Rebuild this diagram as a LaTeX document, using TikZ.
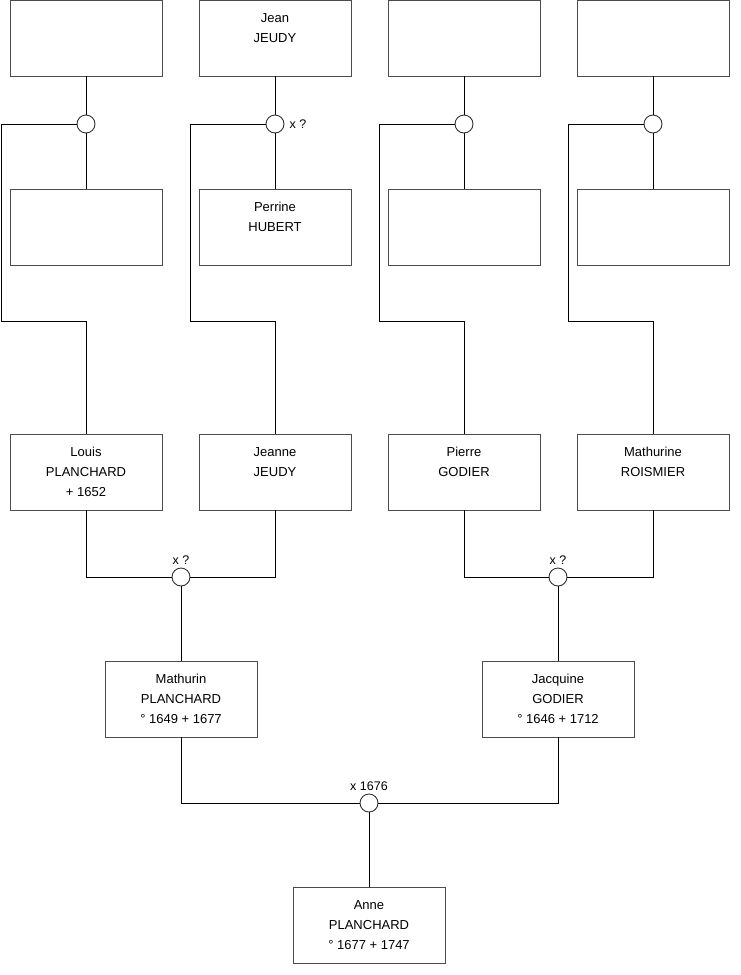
\documentclass[tikz,border=0pt]{standalone}
\usepackage{fontspec}
\setmainfont{Liberation Sans}
\usetikzlibrary{positioning}

\begin{document}
\begin{tikzpicture}[x=1pt, y=-1pt,
    person/.style={draw=black!70, line width=0.9pt, minimum width=152pt, minimum height=76pt,
                   inner sep=0pt, align=center, font=\fontsize{13}{20}\selectfont},
    wed/.style={circle, draw=black!80, fill=white, line width=0.9pt, minimum size=18pt, inner sep=0pt},
    link/.style={black, line width=0.9pt},
    note/.style={font=\fontsize{12.5}{14}\selectfont, inner sep=1pt}]
    \useasboundingbox (0,0) rectangle (740,975);

    % Great-grandparents
    \node[person] (u1) at (86,38) {};
    \node[person] (jean) at (275,38) {Jean\\JEUDY\\~};
    \node[person] (u3) at (464,38) {};
    \node[person] (u5) at (653,38) {};

    \node[person] (u2) at (86,227) {};
    \node[person] (perrine) at (275,227) {Perrine\\HUBERT\\~};
    \node[person] (u4) at (464,227) {};
    \node[person] (u6) at (653,227) {};

    % Grandparents
    \node[person] (louis) at (86,472) {Louis\\PLANCHARD\\+ 1652};
    \node[person] (jeanne) at (275,472) {Jeanne\\JEUDY\\~};
    \node[person] (pierre) at (464,472) {Pierre\\GODIER\\~};
    \node[person] (mathurine) at (653,472) {Mathurine\\ROISMIER\\~};

    % Parents and child
    \node[person] (mathurin) at (181,699) {Mathurin\\PLANCHARD\\\textdegree\ 1649 + 1677};
    \node[person] (jacquine) at (558,699) {Jacquine\\GODIER\\\textdegree\ 1646 + 1712};
    \node[person] (anne) at (369,925) {Anne\\PLANCHARD\\\textdegree\ 1677 + 1747};

    % Marriages
    \node[wed] (m1) at (86,124) {};
    \node[wed] (m2) at (275,124) {};
    \node[wed] (m3) at (464,124) {};
    \node[wed] (m4) at (653,124) {};
    \node[wed] (m5) at (181,577) {};
    \node[wed] (m6) at (558,577) {};
    \node[wed] (m7) at (369,803) {};

    \node[note, right=4pt of m2] (n2) {x ?};
    \node[note, above=2pt of m5] (n5) {x ?};
    \node[note, above=2pt of m6] (n6) {x ?};
    \node[note, above=2pt of m7] (n7) {x 1676};

    % Couples on the top rows
    \foreach \a/\m/\b in {u1/m1/u2, jean/m2/perrine, u3/m3/u4, u5/m4/u6} {
        \draw[link] (\a) -- (\m) -- (\b);
    }

    % Child of each top couple
    \foreach \m/\k/\c in {m1/1/louis, m2/190/jeanne, m3/379/pierre, m4/568/mathurine} {
        \draw[link] (\m.west) -| (\k,321) -| (\c.north);
    }

    % Lower couples
    \foreach \a/\m/\b/\c in {louis/m5/jeanne/mathurin, pierre/m6/mathurine/jacquine, mathurin/m7/jacquine/anne} {
        \draw[link] (\a.south) |- (\m.west);
        \draw[link] (\b.south) |- (\m.east);
        \draw[link] (\m) -- (\c);
    }
\end{tikzpicture}
\end{document}
